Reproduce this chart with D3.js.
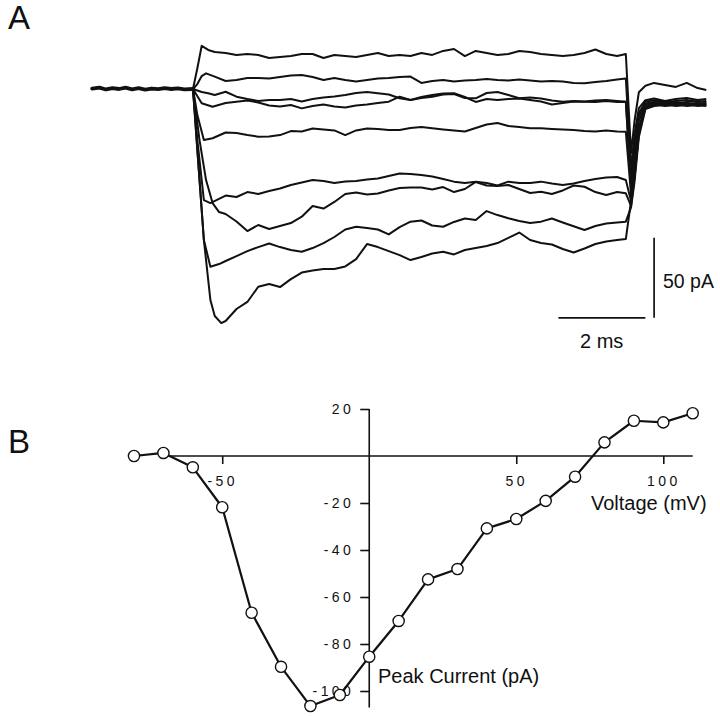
<!DOCTYPE html>
<html>
<head>
<meta charset="utf-8">
<script src="https://cdn.jsdelivr.net/npm/d3@7/dist/d3.min.js"></script>
<style>
  html, body { margin: 0; padding: 0; background: #fff; }
  svg { display: block; }
  text { font-family: "Liberation Sans", Arial, Helvetica, sans-serif; fill: #111; }
</style>
</head>
<body>
<svg id="chart" width="720" height="716"></svg>
<script>
// ---------------- Panel A data (time in ms, current in pA) ----------------
const baselineTimes = [-2.32, -2.15, -2.0, -1.85, -1.7, -1.55, -1.4, -1.25, -1.1, -0.95, -0.8, -0.65, -0.5, -0.35, -0.2, 0];
const baselineCurrent = [0.3, 0.9, -0.3, 0.6, 0, 0.8, -0.2, 0.5, -0.4, 0.3, -0.1, 0.6, 0, 0.4, -0.2, 0];

const stepTimes = [0.75, 1.0, 1.25, 1.5, 1.75, 2.0, 2.25, 2.5, 2.75, 3.0, 3.25, 3.5, 3.75, 4.0, 4.25, 4.5, 4.75, 5.0, 5.25, 5.5, 5.75, 6.0, 6.25, 6.5, 6.75, 7.0, 7.25, 7.5, 7.75, 8.0, 8.25, 8.5, 8.75, 9.0, 9.25, 9.5, 9.75, 9.95];
const tailTimes = [10.07, 10.15, 10.25, 10.4, 10.6, 10.85, 11.1, 11.35, 11.6, 11.8];

const onset1 = [[0, 0], [0.1, 13], [0.2, 27], [0.35, 24.4], [0.5, 23.1]];
const onset2 = [[0, 0], [0.1, 3.1], [0.2, 8.1], [0.3, 9.8], [0.5, 7.7]];
const onset3 = [[0, 0], [0.2, -1.9], [0.35, -2.7], [0.5, -3.8]];
const onset4 = [[0, 0], [0.2, -8.9], [0.45, -11.1]];
const onset5 = [[0, 0], [0.1, -16.3], [0.25, -31.9], [0.45, -30.8]];
const onset6 = [[0, 0], [0.1, -31.9], [0.25, -69.4], [0.4, -71.3]];
const onset7 = [[0, 0], [0.15, -31.9], [0.3, -56.9], [0.45, -71.3], [0.6, -76.9]];
const onset8 = [[0, 0], [0.1, -38.1], [0.25, -94.4], [0.4, -111.1], [0.6, -109.4]];
const onset9 = [[0, 0], [0.1, -38.1], [0.25, -94.4], [0.4, -131.9], [0.5, -141.9], [0.65, -146.3]];

const step1 = [22.5, 21.3, 21.9, 21.3, 19.4, 20, 20.6, 21.9, 21.9, 19.4, 21.3, 20.6, 20, 21.3, 22.5, 20.6, 21.3, 20.6, 22.5, 21.3, 23.8, 25, 20.6, 23.8, 22.5, 21.3, 21.9, 23.8, 23.1, 21.9, 21.3, 20.6, 21.3, 22.5, 24.7, 21.9, 20.6, 21.9];
const step2 = [5, 5.6, 6.9, 6.9, 6.6, 7.5, 8.4, 8.8, 7.5, 5.6, 6.9, 5.6, 4.7, 5.6, 6.6, 6.9, 7.5, 7.8, 3.8, 5, 5.6, 4.7, 5.3, 5.6, 6.3, 5.6, 5.3, 5.9, 5.3, 4.7, 5, 4.7, 3.8, 3.6, 4.4, 5, 5.9, 6.6];
const step3 = [-1.7, -4.8, -6.3, -7.5, -6.9, -6.9, -6.3, -7.8, -6.3, -5.3, -4.7, -3.8, -2.5, -1.9, -2.7, -3.4, -5.8, -6.9, -5, -3.8, -2.8, -2.7, -5, -8.1, -6.3, -6.9, -6.3, -5.9, -6.9, -7.8, -9.7, -8.8, -7.8, -7.9, -8.1, -7.5, -8.1, -7.9];
const step4 = [-8.8, -7.9, -7.2, -8.4, -10.3, -10.9, -10, -12.1, -10.6, -9.7, -10.9, -11.6, -10.3, -9.7, -8.8, -7.9, -4.8, -6.9, -5.6, -4.8, -3.4, -3.1, -5.6, -5.8, -2.5, -1.9, -3.8, -5.8, -5.3, -5.9, -7.2, -7.9, -7.5, -7.8, -7.2, -6.9, -7.5, -7.9];
const step5 = [-27.2, -27.5, -28.8, -29.8, -29.7, -28.8, -26.3, -26.6, -24.7, -25.3, -25.9, -28.8, -25.9, -24.7, -25, -25.6, -25.6, -24.4, -23.8, -24.6, -25.3, -25.9, -26.6, -24.4, -22.2, -21.3, -23.1, -23.8, -24.6, -24.6, -25, -25.3, -25.6, -26.3, -26.6, -25.9, -26.6, -26.7];
const step6 = [-66.6, -67.5, -64.4, -65.6, -63.8, -62.2, -60, -58.4, -56.9, -57.5, -58.8, -57.8, -57.5, -56.6, -55.9, -54.4, -52.8, -53.1, -53.8, -54.7, -56.3, -57.9, -58.8, -57.9, -58.8, -60.3, -57.9, -58.8, -58.8, -57.9, -59.1, -60, -59.1, -57.5, -56.3, -55.3, -55, -56.9];
const step7 = [-78.1, -82.8, -88.8, -85, -87.5, -85.6, -83.8, -79.8, -73.1, -74.7, -70.6, -65.6, -64.7, -65.9, -65.3, -63.4, -61.9, -61.6, -61.6, -62.8, -61.3, -64.4, -62.5, -58.1, -60.3, -60.6, -60, -62.5, -65, -64.2, -65.6, -63.4, -60.3, -61.1, -64.4, -66.3, -64.4, -65.2];
const step8 = [-107.5, -104.4, -101.3, -98.8, -96.6, -98.8, -100.6, -101.7, -99.4, -96.3, -92.5, -87.8, -86.1, -86.9, -87.8, -90.9, -86.3, -82.9, -82.2, -85.3, -86.1, -83.1, -80.9, -81.9, -76.3, -78.8, -80.8, -82.5, -83.8, -82.9, -80.9, -83.4, -85.8, -88.1, -85.6, -84.1, -83.4, -82.9];
const step9 = [-145, -137.5, -133.1, -123.6, -121.9, -123.8, -118.8, -114.7, -113.4, -112.5, -112.5, -110.9, -106.3, -96.9, -98.8, -101.3, -103.8, -106.9, -105, -102.8, -101.7, -103.4, -100.6, -99.4, -98.1, -96.3, -93.1, -89.7, -94.4, -96.3, -97.2, -100, -102.2, -99.7, -96.9, -95.3, -94.4, -93.8];

const tail1 = [-40, -20, -2, 2, 3.8, 2.5, 1.3, 3.8, 0.6, -0.6];
const tail2 = [-50, -28, -12, -7, -6, -7.5, -6.3, -5.6, -6.9, -6.3];
const tail3 = [-58, -35, -15, -8, -7, -8.1, -7.5, -6.9, -8.1, -7.5];
const tail4 = [-62, -40, -17, -9, -8.1, -7.5, -8.8, -8.1, -7.5, -8.1];
const tail5 = [-66, -45, -20, -10, -8.8, -9.4, -8.1, -9.4, -8.8, -9.4];
const tail6 = [-70, -50, -24, -11, -9.4, -8.1, -9.4, -8.8, -10, -8.8];
const tail7 = [-73, -55, -27, -12, -10, -9.4, -10.6, -10, -9.4, -10];
const tail8 = [-74, -58, -30, -12.5, -10.6, -10, -9.4, -10.6, -10, -10.6];
const tail9 = [-70, -55, -28, -11, -9.4, -10.6, -10, -9.4, -10.6, -10];

const scaleBarTime = 2;     // ms
const scaleBarCurrent = 50; // pA

// ---------------- Panel B data ----------------
const ivVoltage = [-80, -70, -60, -50, -40, -30, -20, -10, 0, 10, 20, 30, 40, 50, 60, 70, 80, 90, 100, 110];
const ivCurrent = [0, 1.3, -4.8, -21.8, -66.7, -89.7, -106.4, -101.7, -85.4, -70.2, -52.5, -48.1, -30.8, -26.8, -19.1, -8.8, 5.8, 15, 14.3, 18.2];
const voltageTicks = [-50, 50, 100];
const currentTicks = [20, -20, -40, -60, -80, -100];

// ---------------- Drawing ----------------
const svg = d3.select("#chart");
const ink = "#111";

// Panel labels
svg.append("text").attr("x", 8).attr("y", 29).style("font-size", "33px").text("A");
svg.append("text").attr("x", 8).attr("y", 453).style("font-size", "33px").text("B");

// Panel A scales
const xA = d3.scaleLinear().domain([0, 10]).range([193, 628]);
const yA = d3.scaleLinear().domain([0, 50]).range([89, 9]);

const lineA = d3.line().x(d => xA(d[0])).y(d => yA(d[1])).curve(d3.curveLinear);

const onsets = [onset1, onset2, onset3, onset4, onset5, onset6, onset7, onset8, onset9];
const steps = [step1, step2, step3, step4, step5, step6, step7, step8, step9];
const tails = [tail1, tail2, tail3, tail4, tail5, tail6, tail7, tail8, tail9];

const gA = svg.append("g");

// thick superimposed baseline
gA.append("path")
  .datum(d3.zip(baselineTimes, baselineCurrent))
  .attr("d", lineA)
  .attr("fill", "none").attr("stroke", ink)
  .attr("stroke-width", 3.8).attr("stroke-linejoin", "round").attr("stroke-linecap", "round");

steps.forEach((s, i) => {
  const pts = []
    .concat(onsets[i])
    .concat(d3.zip(stepTimes, s))
    .concat(d3.zip(tailTimes, tails[i]));
  gA.append("path")
    .datum(pts)
    .attr("d", lineA)
    .attr("fill", "none").attr("stroke", ink)
    .attr("stroke-width", 2).attr("stroke-linejoin", "round");
});

// Scale bars
const barT0 = 8.4, barX = 10.6, barC0 = -143;
gA.append("line")
  .attr("x1", xA(barT0)).attr("x2", xA(barT0 + scaleBarTime))
  .attr("y1", yA(barC0)).attr("y2", yA(barC0))
  .attr("stroke", ink).attr("stroke-width", 1.7);
gA.append("line")
  .attr("x1", xA(barX)).attr("x2", xA(barX))
  .attr("y1", yA(barC0)).attr("y2", yA(barC0 + scaleBarCurrent))
  .attr("stroke", ink).attr("stroke-width", 1.7);
gA.append("text").attr("x", 663).attr("y", 288).style("font-size", "19.5px").text(scaleBarCurrent + " pA");
gA.append("text").attr("x", 580).attr("y", 348).style("font-size", "20px").text(scaleBarTime + " ms");

// Panel B scales
const xB = d3.scaleLinear().domain([-80, 110]).range([134, 692.7]);
const yB = d3.scaleLinear().domain([-100, 20]).range([691, 409]);

const gB = svg.append("g");

// axis lines (crossing at origin)
gB.append("line")
  .attr("x1", xB(-70)).attr("x2", xB(110))
  .attr("y1", yB(0)).attr("y2", yB(0))
  .attr("stroke", ink).attr("stroke-width", 1.6);
gB.append("line")
  .attr("x1", xB(0)).attr("x2", xB(0))
  .attr("y1", yB(20)).attr("y2", yB(-107))
  .attr("stroke", ink).attr("stroke-width", 1.6);

const xAxis = d3.axisBottom(xB).tickValues(voltageTicks).tickSize(8).tickPadding(12).tickFormat(d => String(d));
const yAxis = d3.axisLeft(yB).tickValues(currentTicks).tickSize(9).tickPadding(6).tickFormat(d => String(d));

const gx = gB.append("g").attr("transform", `translate(0,${yB(0)})`).call(xAxis);
const gy = gB.append("g").attr("transform", `translate(${xB(0)},0)`).call(yAxis);
[gx, gy].forEach(g => {
  g.select(".domain").remove();
  g.selectAll(".tick line").attr("stroke", ink).attr("stroke-width", 1.6);
  g.selectAll(".tick text")
    .attr("fill", ink)
    .style("font-family", '"Liberation Sans", Arial, Helvetica, sans-serif')
    .style("font-size", "14px")
    .style("letter-spacing", "3.4px");
});

// IV curve
gB.append("path")
  .datum(d3.zip(ivVoltage, ivCurrent))
  .attr("d", d3.line().x(d => xB(d[0])).y(d => yB(d[1])))
  .attr("fill", "none").attr("stroke", ink).attr("stroke-width", 2.2).attr("stroke-linejoin", "round");

gB.selectAll("circle.pt")
  .data(d3.zip(ivVoltage, ivCurrent))
  .join("circle")
  .attr("class", "pt")
  .attr("cx", d => xB(d[0])).attr("cy", d => yB(d[1]))
  .attr("r", 5.6)
  .attr("fill", "#fff").attr("stroke", ink).attr("stroke-width", 1.4);

// Axis titles
gB.append("text").attr("x", 591).attr("y", 510).style("font-size", "20px").text("Voltage (mV)");
gB.append("text").attr("x", 378).attr("y", 683).style("font-size", "20px").text("Peak Current (pA)");
</script>
</body>
</html>
